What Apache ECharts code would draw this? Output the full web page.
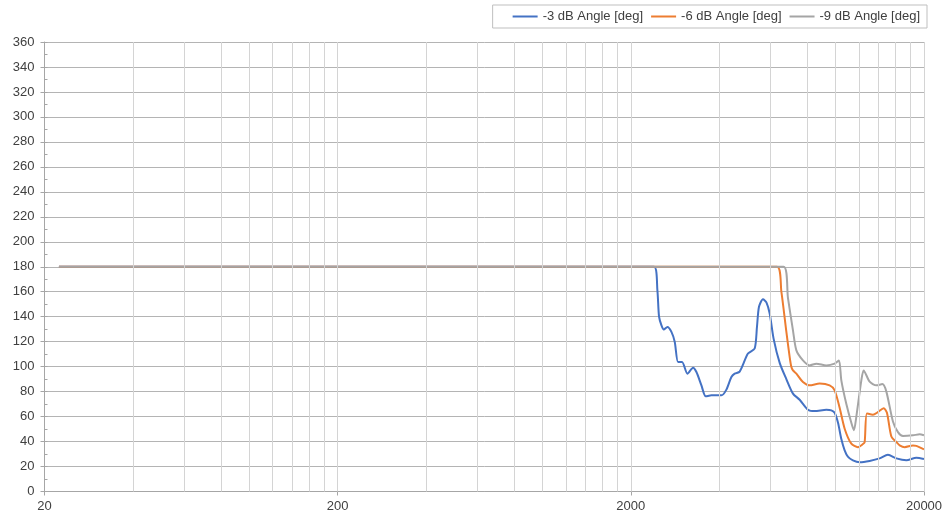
<!DOCTYPE html>
<html>
<head>
<meta charset="utf-8">
<script src="https://cdn.jsdelivr.net/npm/echarts@6.0.0/dist/echarts.min.js"></script>
<style>
html,body{margin:0;padding:0;background:#fff;}
#c{width:946px;height:519px;}
</style>
</head>
<body>
<div id="c"></div>
<script>
// ---- data (frequency in Hz, angle in degrees) ----
const seriesNames = ['-3 dB Angle [deg]', '-6 dB Angle [deg]', '-9 dB Angle [deg]'];

const freq3 = [22.4, 100, 1000, 2000, 2400, 2464, 2496, 2544, 2590, 2666, 2751, 2824, 2898, 2990, 3120, 3260, 3348, 3482, 3602, 3766, 4074, 4236, 4406, 4522, 4702, 5018, 5290, 5386, 5472, 5646, 5800, 5952, 6142, 6438, 6784, 7146, 7532, 8040, 8472, 9288, 9660, 9914, 10180, 10448, 10724, 11000, 11446, 12064, 13050, 14116, 15068, 16094, 17412, 18830, 20000];
const deg3  = [180, 180, 180, 180, 180, 161, 140, 133, 129.7, 131.8, 127.8, 119.8, 103.7, 103.7, 94.4, 99.2, 95.7, 85, 76.2, 77, 77, 81.6, 91.7, 94.4, 96, 110.5, 114.5, 131.8, 147.9, 154, 151.5, 142.6, 122, 103, 90, 78.4, 73.5, 65.5, 64.4, 65.5, 65, 63, 55, 42, 33, 28, 25, 23.5, 24.5, 26.5, 29.4, 26.5, 25, 27, 26];

const freq6 = [22.4, 100, 1000, 2000, 6304, 6524, 6784, 6964, 7058, 7146, 7340, 7730, 8148, 8812, 9532, 9914, 10310, 10724, 11302, 11904, 12380, 12550, 12776, 13394, 13928, 14566, 14950, 15476, 16094, 16518, 17180, 18338, 18830, 20000];
const deg6  = [180, 180, 180, 180, 180, 160, 128, 107.7, 99.7, 97, 94.4, 87.7, 85, 86.4, 85, 81, 67, 50.3, 38.3, 35.5, 38, 39.5, 62.5, 61.5, 63.6, 66.7, 63, 44, 39.6, 37, 35.5, 36.9, 36.5, 33.7];

const freq9 = [22.4, 100, 1000, 2000, 6642, 6870, 7146, 7340, 7730, 8148, 8586, 9288, 9914, 10254, 10448, 10868, 11302, 11536, 11756, 12226, 12450, 13050, 13756, 14418, 14880, 15672, 16300, 16952, 18338, 19320, 20000];
const deg9  = [180, 180, 180, 180, 180, 155, 129, 113, 105, 101, 102.4, 101, 102.4, 105, 89, 70, 55, 49, 60, 89, 97, 88, 85, 86, 80, 56, 47.6, 44.5, 45, 45.8, 45];

// axis tick values
const xMajorTicks = [20, 200, 2000, 20000];
const xGridValues = [40, 60, 80, 100, 120, 140, 160, 180, 200,
                     400, 600, 800, 1000, 1200, 1400, 1600, 1800, 2000,
                     4000, 6000, 8000, 10000, 12000, 14000, 16000, 18000, 20000];
const yMin = 0, yMax = 360, yStep = 20, yMinorStep = 10;

const colors = ['#4472C4', '#ED7D31', '#A5A5A5'];
const textColor = '#404040';
const fontFamily = '"Liberation Sans", Arial, Helvetica, sans-serif';

function zip(xs, ys) { return xs.map((x, i) => [x, ys[i]]); }

const chart = echarts.init(document.getElementById('c'), null, { renderer: 'canvas' });

const lineSeries = [[freq3, deg3], [freq6, deg6], [freq9, deg9]].map((p, i) => ({
  name: seriesNames[i],
  type: 'line',
  data: zip(p[0], p[1]),
  symbol: 'none',
  showSymbol: false,
  smooth: 0.25,
  z: 3,
  lineStyle: { color: colors[i], width: 2 },
  itemStyle: { color: colors[i] },
  emphasis: { disabled: true }
}));

const gridSeries = {
  name: 'grid',
  type: 'line',
  data: [[20, 0]],
  symbol: 'none',
  lineStyle: { opacity: 0 },
  silent: true,
  z: 1,
  markLine: {
    silent: true,
    symbol: ['none', 'none'],
    label: { show: false },
    animation: false,
    lineStyle: { color: '#d4d4d4', width: 1, type: 'solid' },
    emphasis: { disabled: true },
    data: xGridValues.map(v => ({ xAxis: v }))
  }
};

chart.setOption({
  animation: false,
  backgroundColor: '#ffffff',
  color: colors,
  textStyle: { fontFamily: fontFamily },
  legend: {
    data: seriesNames,
    top: 5,
    right: 19,
    orient: 'horizontal',
    padding: [5, 7, 5, 19],
    itemGap: 7,
    itemWidth: 25,
    itemHeight: 14,
    borderColor: '#bfbfbf',
    borderWidth: 1,
    borderRadius: 0,
    itemStyle: { opacity: 0 },
    lineStyle: { width: 2 },
    textStyle: { color: textColor, fontSize: 13, fontFamily: fontFamily }
  },
  grid: {
    left: 44.5, right: 22, top: 42, bottom: 27.5,
    containLabel: false,
    outerBoundsMode: 'none'
  },
  xAxis: {
    type: 'log',
    logBase: 10,
    min: 20,
    max: 20000,
    axisLine: { show: true, lineStyle: { color: '#a6a6a6', width: 1 } },
    axisTick: { show: true, length: 4, inside: false, customValues: xMajorTicks, lineStyle: { color: '#a6a6a6' } },
    axisLabel: {
      customValues: xMajorTicks,
      color: textColor, fontSize: 13, margin: 8, fontFamily: fontFamily,
      formatter: v => String(Math.round(v))
    },
    splitLine: { show: false },
    minorTick: { show: false },
    minorSplitLine: { show: false }
  },
  yAxis: [{
    type: 'value',
    min: yMin, max: yMax, interval: yStep,
    axisLine: { show: true, lineStyle: { color: '#a6a6a6', width: 1 } },
    axisTick: { show: true, length: 4, inside: false, lineStyle: { color: '#a6a6a6' } },
    axisLabel: { color: textColor, fontSize: 13, margin: 10, fontFamily: fontFamily },
    splitLine: { show: true, lineStyle: { color: '#b4b4b4', width: 1 } }
  }, {
    type: 'value',
    position: 'left',
    min: yMin, max: yMax, interval: yMinorStep,
    axisLine: { show: false },
    axisTick: { show: true, length: 3, inside: true, lineStyle: { color: '#a6a6a6' } },
    axisLabel: { show: false },
    splitLine: { show: false }
  }],
  series: [gridSeries].concat(lineSeries)
});
</script>
</body>
</html>
